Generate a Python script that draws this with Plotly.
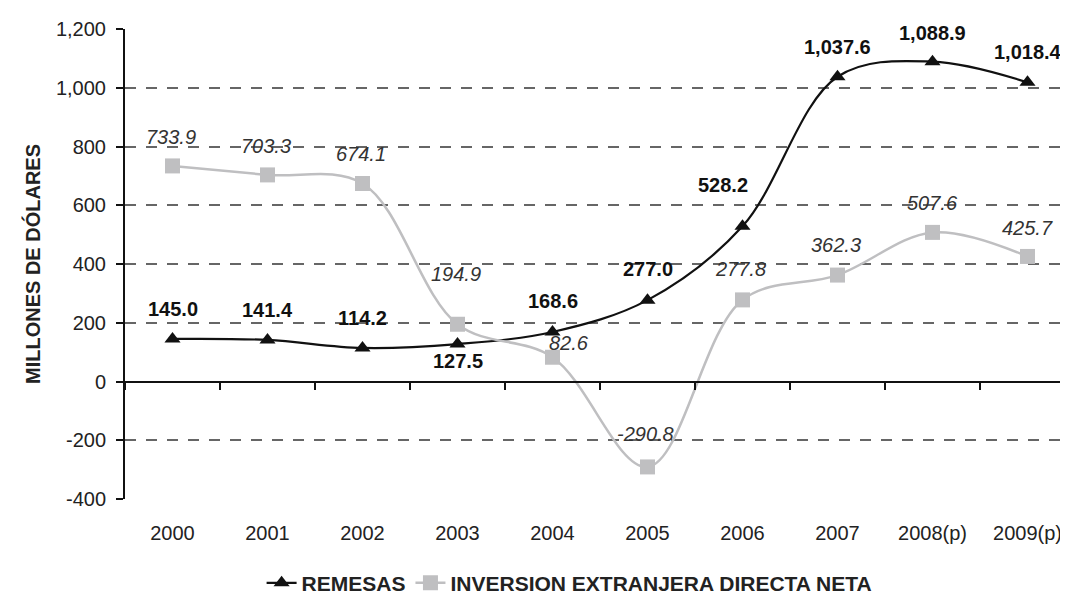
import plotly.graph_objects as go

years = ["2000", "2001", "2002", "2003", "2004", "2005", "2006", "2007", "2008(p)", "2009(p)"]
remesas = [145.0, 141.4, 114.2, 127.5, 168.6, 277.0, 528.2, 1037.6, 1088.9, 1018.4]
ied = [733.9, 703.3, 674.1, 194.9, 82.6, -290.8, 277.8, 362.3, 507.6, 425.7]
y_tickvals = [-400, -200, 0, 200, 400, 600, 800, 1000, 1200]
y_ticktext = ["-400", "-200", "0", "200", "400", "600", "800", "1,000", "1,200"]

# label offsets (pixels) - style only
rem_dx = [0, 0, 0, 0, 0, 0, -20, 0, 0, 0]
rem_dy = [30, 30, 30, -17, 31, 31, 41, 30, 29, 30]
ied_dx = [-2, -2, -2, -2, 16, -2, -2, -2, 0, 0]
ied_dy = [29, 29, 29, 50, 14, 33, 31, 30, 29, 28]

BLACK = "#111111"
GRAY = "#bfbfc1"
FONT = "Liberation Sans, Arial"

fig = go.Figure()
fig.add_trace(go.Scatter(
    x=years, y=remesas, name="REMESAS", mode="lines+markers",
    line=dict(color=BLACK, width=2.2, shape="spline", smoothing=1),
    marker=dict(symbol="triangle-up", size=14, color=BLACK),
))
fig.add_trace(go.Scatter(
    x=years, y=ied, name="INVERSION EXTRANJERA DIRECTA NETA", mode="lines+markers",
    line=dict(color=GRAY, width=2.5, shape="spline", smoothing=1),
    marker=dict(symbol="square", size=15, color=GRAY),
))

ann = []
for i, (v, dx, dy) in enumerate(zip(remesas, rem_dx, rem_dy)):
    ann.append(dict(x=i, y=v, xref="x", yref="y", text=f"<b>{v:,.1f}</b>", showarrow=False,
                    xshift=dx, yshift=dy,
                    font=dict(family=FONT, size=20, color=BLACK)))
for i, (v, dx, dy) in enumerate(zip(ied, ied_dx, ied_dy)):
    ann.append(dict(x=i, y=v, xref="x", yref="y", text=f"<i>{v:,.1f}</i>", showarrow=False,
                    xshift=dx, yshift=dy,
                    font=dict(family=FONT, size=20, color="#333333")))

fig.update_layout(
    width=1068, height=597,
    paper_bgcolor="white", plot_bgcolor="white",
    margin=dict(l=117, r=1, t=21, b=96),
    font=dict(family=FONT, size=20, color="#222222"),
    annotations=ann,
    showlegend=True,
    legend=dict(orientation="h", x=0.468, xanchor="center", y=-0.179, yanchor="middle",
                font=dict(family=FONT, size=21, color="#222222", weight="bold"), itemwidth=30),
    xaxis=dict(
        type="category", categoryorder="array", categoryarray=years,
        range=[-0.5, 9.5], anchor="free", position=0.25,
        showline=True, linecolor=BLACK, linewidth=2,
        ticks="outside", tickson="boundaries", ticklen=7, tickwidth=2, tickcolor=BLACK,
        ticklabelstandoff=133, showgrid=False, zeroline=False,
        tickfont=dict(family=FONT, size=20, color="#222222"),
    ),
    yaxis=dict(
        range=[-400, 1200], tickmode="array", tickvals=y_tickvals, ticktext=y_ticktext,
        showline=True, linecolor=BLACK, linewidth=2,
        ticks="outside", ticklen=7, tickwidth=2, tickcolor=BLACK,
        ticklabelstandoff=6,
        showgrid=True, gridcolor="#666666", gridwidth=1.5, griddash="11px,10px",
        zeroline=False,
        tickfont=dict(family=FONT, size=20, color="#222222"),
        title=dict(text="<b>MILLONES DE DÓLARES</b>", standoff=10,
                   font=dict(family=FONT, size=20, color="#222222")),
    ),
)

fig.write_html("out.html")
